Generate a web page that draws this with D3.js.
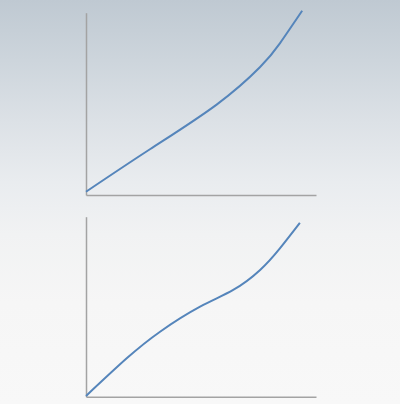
<!DOCTYPE html>
<html>
<head>
<meta charset="utf-8">
<script src="https://cdn.jsdelivr.net/npm/d3@7"></script>
<style>
  html, body { margin: 0; padding: 0; }
  body {
    width: 400px; height: 404px; overflow: hidden;
    background: linear-gradient(to bottom, #bfc9d2 0%, #cdd5dc 15%, #dce1e6 30%, #e9ecef 45%, #f1f2f3 58%, #f6f6f6 75%, #f8f8f8 100%);
  }
  .axis path { stroke: #a3a3a3; stroke-width: 1.5; }
</style>
</head>
<body>
<div id="chart-area"></div>
<script>
// Top chart: a convex rising curve
const topX = [0, 27.8, 56.8, 75.7, 84.3, 94];
const topY = [1.8, 25.1, 49.6, 70.2, 83.2, 101.1];

// Bottom chart: an S-shaped rising curve
const bottomX = [0, 17.7, 32.2, 49.6, 64, 75.7, 84.3, 93];
const bottomY = [0.4, 21.3, 36.1, 50, 59.3, 70.4, 82.4, 96.6];

const svg = d3.select("#chart-area").append("svg")
  .attr("width", 400)
  .attr("height", 404);

function drawPanel(xs, ys, top, bottom) {
  const x = d3.scaleLinear().domain([0, 100]).range([86, 316]);
  const y = d3.scaleLinear().domain([0, 100]).range([bottom, top]);

  svg.append("g")
    .attr("class", "axis")
    .attr("transform", `translate(0, ${bottom})`)
    .call(d3.axisBottom(x).tickValues([]).tickSizeOuter(0));

  svg.append("g")
    .attr("class", "axis")
    .attr("transform", "translate(86, 0)")
    .call(d3.axisLeft(y).tickValues([]).tickSizeOuter(0));

  const pts = xs.map((v, i) => [v, ys[i]]);
  const line = d3.line()
    .x(d => x(d[0]))
    .y(d => y(d[1]))
    .curve(d3.curveNatural);

  svg.append("path")
    .datum(pts)
    .attr("d", line)
    .attr("fill", "none")
    .attr("stroke", "#5585bb")
    .attr("stroke-width", 2);
}

drawPanel(topX, topY, 12.7, 195);
drawPanel(bottomX, bottomY, 216.7, 396.7);
</script>
</body>
</html>
